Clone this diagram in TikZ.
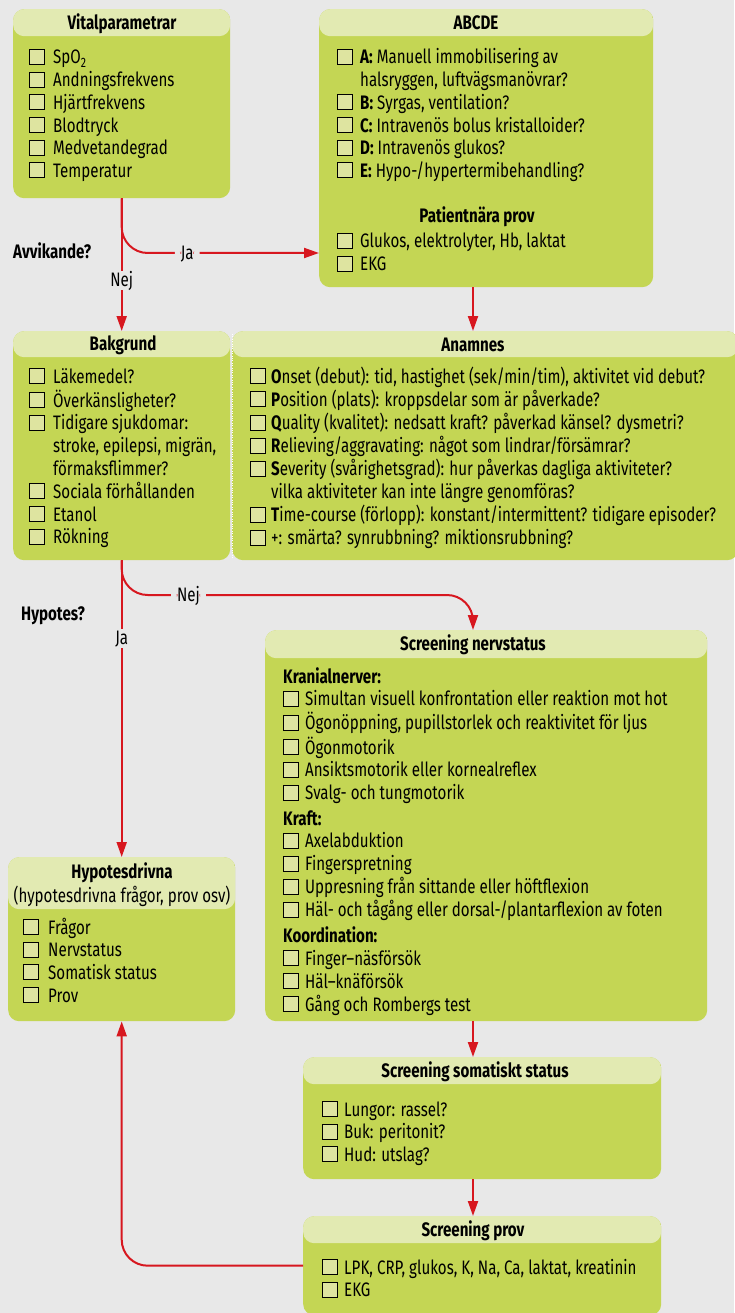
\documentclass[tikz,border=0pt]{standalone}
\usepackage{fontspec}
\setmainfont[FakeStretch=0.775]{Fira Sans}
\usetikzlibrary{positioning,arrows.meta}

\definecolor{bggray}{HTML}{E8E8E8}
\definecolor{headgreen}{HTML}{E2EAB2}
\definecolor{bodygreen}{HTML}{C4D654}
\definecolor{boxfill}{HTML}{DEE4A0}
\definecolor{flowred}{HTML}{D7171F}

\newcommand{\chk}{{\fboxsep=0pt\fboxrule=1pt\fcolorbox{black}{boxfill}{\rule{0pt}{14pt}\rule{14pt}{0pt}}}}
\newcommand{\sect}[1]{\multicolumn{2}{@{}l@{}}{\textbf{#1}}}

\tikzset{
  card/.style={fill=bodygreen, rounded corners=11pt, inner sep=0pt, anchor=north west,
    path picture={\fill[headgreen] (path picture bounding box.north west) rectangle ([yshift=-#1]path picture bounding box.north east);}},
  title/.style={anchor=base, inner sep=0pt, font=\bfseries\fontsize{19.5}{22.7}\selectfont},
  list/.style={anchor=base west, inner sep=0pt, font=\fontsize{19.5}{22.7}\selectfont},
  ask/.style={anchor=base west, inner sep=0pt, font=\bfseries\fontsize{19.5}{22.7}\selectfont},
  tag/.style={fill=bggray, inner xsep=6pt, inner ysep=3pt, text height=13pt, text depth=0pt, font=\fontsize{19.5}{22.7}\selectfont},
  flow/.style={draw=flowred, line width=2pt, -{Triangle[length=15pt,width=10pt]}},
}

\begin{document}
\begin{tikzpicture}[x=1pt, y=-1pt]
    \fill[bggray] (0,0) rectangle (734,1313);
    \useasboundingbox (0,0) rectangle (734,1313);

    % Define nodes
    \node[card=27pt, minimum width=217pt, minimum height=189pt] (vital) at (13,9) {};
    \node[card=27pt, minimum width=334pt, minimum height=278pt] (abcde) at (319,9) {};
    \node[card=26pt, minimum width=217pt, minimum height=229pt] (bak) at (13,331) {};
    \node[card=26pt, minimum width=506pt, minimum height=229pt] (anam) at (232,331) {};
    \node[card=28pt, minimum width=442pt, minimum height=391pt] (nerv) at (265,630) {};
    \node[card=52pt, minimum width=227pt, minimum height=164pt] (hyp) at (8,857) {};
    \node[card=27pt, minimum width=358pt, minimum height=122pt] (soma) at (303,1057) {};
    \node[card=27pt, minimum width=358pt, minimum height=99pt] (prov) at (303,1216) {};
    \draw[white, line width=0.8pt, dash pattern=on 0.8pt off 1.6pt]
      ([yshift=-3pt]anam.north west) -- ([yshift=3pt]anam.south west);

    \coordinate (h1) at (0,253);
    \coordinate (h2) at (0,595);
    \coordinate (rc) at (473,0);

    % titles
    \node[title] (vitalt) at (122,30) {Vitalparametrar};
    \node[title] (abcdet) at (476,30) {ABCDE};
    \node[title] (pnt) at (477,223) {Patientnära prov};
    \node[title] (bakt) at (123,350) {Bakgrund};
    \node[title] (anamt) at (473,351) {Anamnes};
    \node[title] (nervt) at (473,650) {Screening nervstatus};
    \node[title] (hypt) at (122,878) {Hypotesdrivna};
    \node[list, anchor=base] (hyps) at (122,902) {(hypotesdrivna frågor, prov osv)};
    \node[title] (somat) at (475,1077) {Screening somatiskt status};
    \node[title] (provt) at (473,1236) {Screening prov};

    % lists
    \node[list] (vitall) at (29,64) {\begin{tabular}[t]{@{}l@{\hspace{8pt}}l@{}}
      \chk & SpO\textsubscript{2}\\
      \chk & Andningsfrekvens\\
      \chk & Hjärtfrekvens\\
      \chk & Blodtryck\\
      \chk & Medvetandegrad\\
      \chk & Temperatur
    \end{tabular}};
    \node[list] (abcdel) at (337,64) {\begin{tabular}[t]{@{}l@{\hspace{7pt}}l@{}}
      \chk & \textbf{A:} Manuell immobilisering av\\
           & halsryggen, luftvägsmanövrar?\\
      \chk & \textbf{B:} Syrgas, ventilation?\\
      \chk & \textbf{C:} Intravenös bolus kristalloider?\\
      \chk & \textbf{D:} Intravenös glukos?\\
      \chk & \textbf{E:} Hypo-/hypertermibehandling?
    \end{tabular}};
    \node[list] (pnl) at (337,248) {\begin{tabular}[t]{@{}l@{\hspace{7pt}}l@{}}
      \chk & Glukos, elektrolyter, Hb, laktat\\
      \chk & EKG
    \end{tabular}};
    \node[list] (bakl) at (29,383) {\begin{tabular}[t]{@{}l@{\hspace{8pt}}l@{}}
      \chk & Läkemedel?\\
      \chk & Överkänsligheter?\\
      \chk & Tidigare sjukdomar:\\
           & stroke, epilepsi, migrän,\\
           & förmaksflimmer?\\
      \chk & Sociala förhållanden\\
      \chk & Etanol\\
      \chk & Rökning
    \end{tabular}};
    \node[list] (anaml) at (250,383) {\begin{tabular}[t]{@{}l@{\hspace{5pt}}l@{}}
      \chk & \textbf{O}nset (debut): tid, hastighet (sek/min/tim), aktivitet vid debut?\\
      \chk & \textbf{P}osition (plats): kroppsdelar som är påverkade?\\
      \chk & \textbf{Q}uality (kvalitet): nedsatt kraft? påverkad känsel? dysmetri?\\
      \chk & \textbf{R}elieving/aggravating: något som lindrar/försämrar?\\
      \chk & \textbf{S}everity (svårighetsgrad): hur påverkas dagliga aktiviteter?\\
           & vilka aktiviteter kan inte längre genomföras?\\
      \chk & \textbf{T}ime-course (förlopp): konstant/intermittent? tidigare episoder?\\
      \chk & +: smärta? synrubbning? miktionsrubbning?
    \end{tabular}};
    \node[list] (nervl) at (283,683) {\begin{tabular}[t]{@{}l@{\hspace{6pt}}l@{}}
      \sect{Kranialnerver:}\\
      \chk & Simultan visuell konfrontation eller reaktion mot hot\\
      \chk & Ögonöppning, pupillstorlek och reaktivitet för ljus\\
      \chk & Ögonmotorik\\
      \chk & Ansiktsmotorik eller kornealreflex\\
      \chk & Svalg- och tungmotorik\\[3pt]
      \sect{Kraft:}\\
      \chk & Axelabduktion\\
      \chk & Fingerspretning\\
      \chk & Uppresning från sittande eller höftflexion\\
      \chk & Häl- och tågång eller dorsal-/plantarflexion av foten\\[3pt]
      \sect{Koordination:}\\
      \chk & Finger–näsförsök\\
      \chk & Häl–knäförsök\\
      \chk & Gång och Rombergs test
    \end{tabular}};
    \node[list] (hypl) at (23,934) {\begin{tabular}[t]{@{}l@{\hspace{9pt}}l@{}}
      \chk & Frågor\\
      \chk & Nervstatus\\
      \chk & Somatisk status\\
      \chk & Prov
    \end{tabular}};
    \node[list] (somal) at (322,1116) {\begin{tabular}[t]{@{}l@{\hspace{6pt}}l@{}}
      \chk & Lungor: rassel?\\
      \chk & Buk: peritonit?\\
      \chk & Hud: utslag?
    \end{tabular}};
    \node[list] (provl) at (322,1274) {\begin{tabular}[t]{@{}l@{\hspace{6pt}}l@{}}
      \chk & LPK, CRP, glukos, K, Na, Ca, laktat, kreatinin\\
      \chk & EKG
    \end{tabular}};

    % questions
    \node[ask] (avv) at (13,259) {Avvikande?};
    \node[ask] (hq) at (21,620) {Hypotes?};

    % Connect nodes
    \draw[flow] (vital.south) -- node[tag, pos=0.617] (nej1) {Nej} (bak.north);
    \draw[flow, rounded corners=26pt] (vital.south) |- node[tag, pos=0.666] (ja1) {Ja} (abcde.west |- h1);
    \draw[flow] (abcde.south -| rc) -- (anam.north -| rc);
    \draw[flow] (bak.south) -- node[tag, pos=0.263] (ja2) {Ja} (hyp.north);
    \draw[flow, rounded corners=26pt] (bak.south) |- node[tag, pos=0.595] (nej2) {Nej} (rc |- h2) -- (nerv.north -| rc);
    \draw[flow] (nerv.south -| rc) -- (soma.north -| rc);
    \draw[flow] (soma.south -| rc) -- (prov.north -| rc);
    \draw[flow, rounded corners=26pt] (prov.west) -| (hyp.south);
\end{tikzpicture}
\end{document}
